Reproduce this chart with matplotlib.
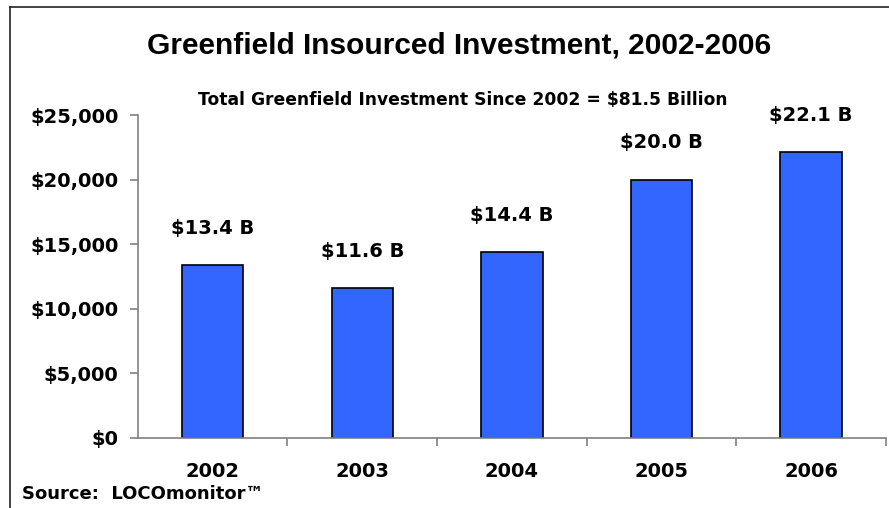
import matplotlib.pyplot as plt
from matplotlib.lines import Line2D

plt.rcParams['font.family'] = ['DejaVu Sans']

years = ['2002', '2003', '2004', '2005', '2006']
investment = [13400, 11600, 14400, 20000, 22100]
bar_labels = ['$13.4 B', '$11.6 B', '$14.4 B', '$20.0 B', '$22.1 B']
yticks = [0, 5000, 10000, 15000, 20000, 25000]

fig = plt.figure(figsize=(8.89, 5.08), dpi=100)
ax = fig.add_axes([0.155, 0.1378, 0.8416, 0.6358])

x = list(range(len(years)))
ax.bar(x, investment, width=0.41, color='#3366FF', edgecolor='black', linewidth=1.2, zorder=2)

for xi, v, lab in zip(x, investment, bar_labels):
    ax.annotate(lab, (xi, v), xytext=(0, 26.5), textcoords='offset points',
                ha='center', va='center', fontsize=14, fontweight='bold')

ax.set_xlim(-0.5, len(years) - 0.5)
ax.set_ylim(0, 25000)
ax.set_yticks(yticks)
ax.set_yticklabels(['${:,}'.format(t) for t in yticks], fontsize=14, fontweight='bold')

ax.set_xticks(x)
ax.set_xticklabels(years, fontsize=14, fontweight='bold')
ax.tick_params(axis='x', length=0, pad=17)
ax.set_xticks([i + 0.5 for i in x], minor=True)
ax.tick_params(axis='x', which='minor', length=5.5, color='#808080', width=1.2)
ax.tick_params(axis='y', length=5.8, color='#808080', width=1.2, pad=8)

for s in ['top', 'right']:
    ax.spines[s].set_visible(False)
for s in ['left', 'bottom']:
    ax.spines[s].set_color('#808080')
    ax.spines[s].set_linewidth(1.2)

fig.text(0.516, 0.911, 'Greenfield Insourced Investment, 2002-2006', ha='center', va='center',
         fontsize=21.5, fontweight='bold', family='Liberation Sans')
fig.text(0.52, 0.803, 'Total Greenfield Investment Since 2002 = $81.5 Billion', ha='center', va='center',
         fontsize=12.3, fontweight='bold')
fig.text(0.025, 0.028, 'Source:  LOCOmonitor\u2122', ha='left', va='center',
         fontsize=13, fontweight='bold')

# frame (top and left edges visible)
fig.add_artist(Line2D([10 / 889, 1], [1 - 6.5 / 508, 1 - 6.5 / 508], color='#222222', lw=1.2,
                      transform=fig.transFigure))
fig.add_artist(Line2D([10 / 889, 10 / 889], [0, 1 - 6.5 / 508], color='#222222', lw=1.2,
                      transform=fig.transFigure))

fig.savefig('out.png', dpi=100)
